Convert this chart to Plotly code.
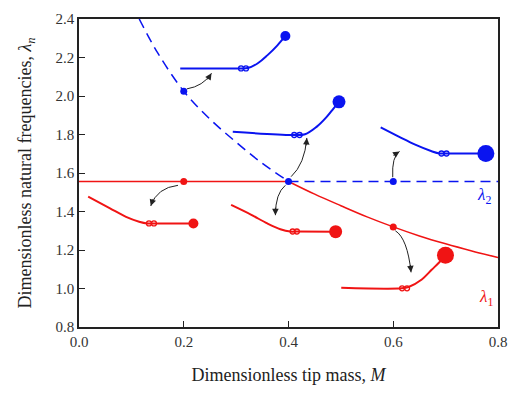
import math
import plotly.graph_objects as go

# ---------------- data ----------------
lam_const = 1.556
M_const_red = [0.0, 0.4]
M_const_blue = [0.4, 0.8]

M_desc_blue = [0.115, 0.15, 0.2, 0.25, 0.3, 0.35, 0.4]
L_desc_blue = [2.40, 2.225, 2.025, 1.88, 1.76, 1.65, 1.556]

M_desc_red = [0.4, 0.45, 0.5, 0.55, 0.6, 0.65, 0.7, 0.75, 0.8]
L_desc_red = [1.556, 1.49, 1.43, 1.372, 1.32, 1.273, 1.232, 1.195, 1.161]

pts_blue_M = [0.2, 0.4, 0.6]
pts_blue_L = [2.025, 1.556, 1.556]
pts_red_M = [0.2, 0.6]
pts_red_L = [1.556, 1.32]

# mode-shape sketches (beam, hinge pair, tip mass)
shape_blue1_M = [0.1933, 0.3063, 0.3219, 0.3407, 0.3595, 0.3784, 0.3940]
shape_blue1_L = [2.143, 2.143, 2.145, 2.169, 2.211, 2.262, 2.312]
shape_blue2_M = [0.2936, 0.4066, 0.4316, 0.4536, 0.4725, 0.4862, 0.4964]
shape_blue2_L = [1.814, 1.7975, 1.801, 1.8395, 1.890, 1.936, 1.970]
shape_blue3_M = [0.5760, 0.6105, 0.6419, 0.6733, 0.6889, 0.7016, 0.7768]
shape_blue3_L = [1.8365, 1.789, 1.747, 1.713, 1.7013, 1.7013, 1.7013]
shape_red1_M = [0.0175, 0.0584, 0.0898, 0.1148, 0.1304, 0.1431, 0.2184]
shape_red1_L = [1.477, 1.418, 1.372, 1.347, 1.338, 1.338, 1.338]
shape_red2_M = [0.2904, 0.3281, 0.3595, 0.3845, 0.4034, 0.4160, 0.4900]
shape_red2_L = [1.434, 1.384, 1.338, 1.308, 1.296, 1.296, 1.295]
shape_red3_M = [0.5007, 0.6155, 0.6293, 0.6545, 0.6733, 0.6889, 0.6997]
shape_red3_L = [1.004, 1.001, 1.008, 1.047, 1.097, 1.139, 1.173]

hinge_M = [[0.3094, 0.3188], [0.4109, 0.4211], [0.6921, 0.7016],
           [0.1336, 0.1431], [0.4079, 0.4160], [0.6169, 0.6263]]
hinge_L = [2.143, 1.7975, 1.7013, 1.338, 1.296, 1.001]
tip_M = [0.3940, 0.4964, 0.7768, 0.2184, 0.4900, 0.6997]
tip_L = [2.312, 1.970, 1.7013, 1.338, 1.295, 1.173]
tip_size = [10, 13, 17, 10, 13, 17]

# curved arrows: start, control, end
arrows = [
    ((0.206, 2.037), (0.237, 2.051), (0.253, 2.118)),
    ((0.405, 1.581), (0.431, 1.646), (0.435, 1.782)),
    ((0.599, 1.578), (0.597, 1.686), (0.612, 1.712)),
    ((0.189, 1.536), (0.149, 1.524), (0.137, 1.429)),
    ((0.394, 1.536), (0.375, 1.494), (0.375, 1.381)),
    ((0.604, 1.300), (0.627, 1.261), (0.634, 1.084)),
]

BLUE = "#0a14f0"
RED = "#f01414"
FONT = "Liberation Serif"

W, H = 518, 393
ML, MR, MT, MB = 79, 15, 11, 66
XR = [0, 0.8]
YR = [0.8, 2.4]
sx = (W - ML - MR) / (XR[1] - XR[0])
sy = (H - MT - MB) / (YR[1] - YR[0])

fig = go.Figure()

fig.add_trace(go.Scatter(x=M_const_red, y=[lam_const] * 2, mode="lines",
                         line=dict(color=RED, width=1.5)))
fig.add_trace(go.Scatter(x=M_desc_red, y=L_desc_red, mode="lines", line_shape="spline",
                         line=dict(color=RED, width=1.5)))
fig.add_trace(go.Scatter(x=M_const_blue, y=[lam_const] * 2, mode="lines",
                         line=dict(color=BLUE, width=1.5, dash="10px,6px")))
fig.add_trace(go.Scatter(x=M_desc_blue, y=L_desc_blue, mode="lines", line_shape="spline",
                         line=dict(color=BLUE, width=1.5, dash="10px,6px")))

shapes_data = [
    (shape_blue1_M, shape_blue1_L, BLUE), (shape_blue2_M, shape_blue2_L, BLUE),
    (shape_blue3_M, shape_blue3_L, BLUE), (shape_red1_M, shape_red1_L, RED),
    (shape_red2_M, shape_red2_L, RED), (shape_red3_M, shape_red3_L, RED),
]
for i, (mx, ly, c) in enumerate(shapes_data):
    fig.add_trace(go.Scatter(x=mx, y=ly, mode="lines", line_shape="spline",
                             line=dict(color=c, width=2)))
    fig.add_trace(go.Scatter(x=hinge_M[i], y=[hinge_L[i]] * 2, mode="markers",
                             marker=dict(symbol="circle-open", size=5, color=c,
                                         line=dict(width=1.3, color=c))))
    fig.add_trace(go.Scatter(x=[tip_M[i]], y=[tip_L[i]], mode="markers",
                             marker=dict(size=tip_size[i], color=c)))

fig.add_trace(go.Scatter(x=pts_blue_M, y=pts_blue_L, mode="markers",
                         marker=dict(size=7, color=BLUE)))
fig.add_trace(go.Scatter(x=pts_red_M, y=pts_red_L, mode="markers",
                         marker=dict(size=7, color=RED)))

for (s, c, e) in arrows:
    fig.add_shape(type="path", xref="x", yref="y",
                  path=f"M {s[0]},{s[1]} Q {c[0]},{c[1]} {e[0]},{e[1]}",
                  line=dict(color="#222", width=1))
    # tangent direction at the end, in screen pixels (y down)
    dx = (e[0] - c[0]) * sx
    dy = -(e[1] - c[1]) * sy
    n = math.hypot(dx, dy)
    L = 9.0
    fig.add_annotation(x=e[0], y=e[1], ax=-dx / n * L, ay=-dy / n * L,
                       axref="pixel", ayref="pixel",
                       xref="x", yref="y", text="", showarrow=True,
                       arrowhead=2, arrowsize=1.3, arrowwidth=1, arrowcolor="#222",
                       standoff=0, startstandoff=0)

fig.add_annotation(x=0.774, y=1.478, text="<i>λ</i><sub>2</sub>", showarrow=False,
                   font=dict(family=FONT, size=17, color=BLUE))
fig.add_annotation(x=0.777, y=0.953, text="<i>λ</i><sub>1</sub>", showarrow=False,
                   font=dict(family=FONT, size=17, color=RED))

axis_common = dict(showline=True, linecolor="#222", linewidth=1.5, mirror=True,
                   ticks="inside", ticklen=6, tickwidth=1, tickcolor="#222",
                   showgrid=False, zeroline=False,
                   tickfont=dict(family=FONT, size=15, color="#333"))

fig.update_layout(
    width=W, height=H,
    margin=dict(l=ML, r=MR, t=MT, b=MB),
    paper_bgcolor="white", plot_bgcolor="white",
    showlegend=False,
    xaxis=dict(range=XR, tickvals=[0, 0.2, 0.4, 0.6, 0.8], tickformat=".1f",
               title=dict(text="Dimensionless tip mass, <i>M</i>", standoff=20,
                          font=dict(family=FONT, size=18, color="#222")),
               **axis_common),
    yaxis=dict(range=YR, tickvals=[0.8, 1.0, 1.2, 1.4, 1.6, 1.8, 2.0, 2.2, 2.4],
               tickformat=".1f",
               title=dict(text="Dimensionless natural frequencies, <i>λ<sub>n</sub></i>",
                          standoff=19, font=dict(family=FONT, size=18, color="#222")),
               **axis_common),
)

fig.write_html("out.html")
